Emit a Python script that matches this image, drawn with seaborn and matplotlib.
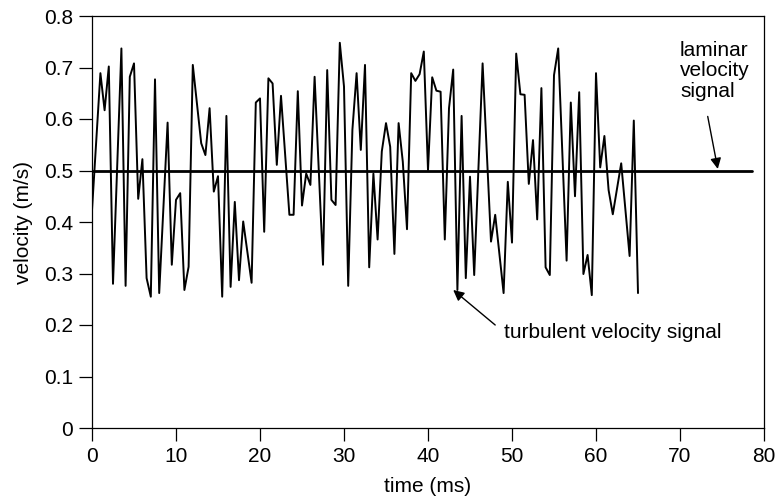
import matplotlib
matplotlib.use("Agg")
import matplotlib.pyplot as plt
import seaborn as sns
import pandas as pd
from matplotlib.ticker import FuncFormatter

time_ms = [0, 1.0, 1.5, 2.0, 2.5, 3.5, 4.0, 4.5, 5.0, 5.5, 6.0, 6.5, 7.0, 7.5, 8.0,
           9.0, 9.5, 10.0, 10.5, 11.0, 11.5, 12.0, 13.0, 13.5, 14.0, 14.5, 15.0, 15.5,
           16.0, 16.5, 17.0, 17.5, 18.0, 19.0, 19.5, 20.0, 20.5, 21.0, 21.5, 22.0, 22.5,
           23.5, 24.0, 24.5, 25.0, 25.5, 26.0, 26.5, 27.5, 28.0, 28.5, 29.0, 29.5, 30.0,
           30.5, 31.0, 31.5, 32.0, 32.5, 33.0, 33.5, 34.0, 34.5, 35.0, 35.5, 36.0, 36.5,
           37.0, 37.5, 38.0, 38.5, 39.0, 39.5, 40.0, 40.5, 41.0, 41.5, 42.0, 42.5, 43.0,
           43.5, 44.0, 44.5, 45.0, 45.5, 46.5, 47.5, 48.0, 49.0, 49.5, 50.0, 50.5, 51.0,
           51.5, 52.0, 52.5, 53.0, 53.5, 54.0, 54.5, 55.0, 55.5, 56.5, 57.0, 57.5, 58.0,
           58.5, 59.0, 59.5, 60.0, 60.5, 61.0, 61.5, 62.0, 63.0, 64.0, 64.5, 65.0]
turbulent_velocity = [0.423, 0.689, 0.617, 0.702, 0.280, 0.737, 0.276, 0.682, 0.708, 0.445,
                      0.522, 0.291, 0.255, 0.677, 0.262, 0.593, 0.317, 0.443, 0.456, 0.268,
                      0.313, 0.705, 0.553, 0.530, 0.621, 0.459, 0.489, 0.255, 0.606, 0.274,
                      0.439, 0.287, 0.401, 0.282, 0.632, 0.640, 0.381, 0.679, 0.669, 0.511,
                      0.645, 0.414, 0.414, 0.654, 0.432, 0.494, 0.472, 0.682, 0.317, 0.695,
                      0.443, 0.433, 0.748, 0.663, 0.276, 0.579, 0.689, 0.540, 0.705, 0.312,
                      0.494, 0.366, 0.537, 0.592, 0.546, 0.338, 0.592, 0.517, 0.386, 0.689,
                      0.674, 0.687, 0.731, 0.501, 0.681, 0.655, 0.653, 0.366, 0.621, 0.696,
                      0.268, 0.606, 0.291, 0.488, 0.297, 0.708, 0.362, 0.414, 0.262, 0.478,
                      0.360, 0.727, 0.648, 0.647, 0.474, 0.559, 0.405, 0.660, 0.312, 0.297,
                      0.685, 0.737, 0.325, 0.632, 0.450, 0.652, 0.299, 0.336, 0.258, 0.689,
                      0.506, 0.567, 0.462, 0.415, 0.514, 0.334, 0.597, 0.262]
laminar_time = [0, 78.6]
laminar_velocity = [0.5, 0.5]
x_ticks = [0, 10, 20, 30, 40, 50, 60, 70, 80]
y_ticks = [0, 0.1, 0.2, 0.3, 0.4, 0.5, 0.6, 0.7, 0.8]

sns.set_theme(style="ticks")
plt.rcParams["font.family"] = ["Liberation Sans", "DejaVu Sans"]
plt.rcParams["text.color"] = "black"
plt.rcParams["axes.labelcolor"] = "black"
plt.rcParams["xtick.color"] = "black"
plt.rcParams["ytick.color"] = "black"

FS = 15

fig = plt.figure(figsize=(7.77, 5.0), dpi=100)
ax = fig.add_axes([92 / 777, 1 - 428 / 500, (764 - 92) / 777, (428 - 16) / 500])

turb = pd.DataFrame({"t": time_ms, "v": turbulent_velocity})
lam = pd.DataFrame({"t": laminar_time, "v": laminar_velocity})
sns.lineplot(data=turb, x="t", y="v", ax=ax, color="black", lw=1.4, estimator=None)
sns.lineplot(data=lam, x="t", y="v", ax=ax, color="black", lw=2.0, estimator=None)

ax.set_xlim(0, 80)
ax.set_ylim(0, 0.8)
ax.set_xticks(x_ticks)
ax.set_yticks(y_ticks)
ax.yaxis.set_major_formatter(FuncFormatter(lambda v, p: "0" if v == 0 else f"{v:.1f}"))
ax.tick_params(direction="out", length=9.5, width=0.9, labelsize=FS, pad=4,
               colors="black", labelcolor="black", top=False, right=False)
for s in ax.spines.values():
    s.set_linewidth(0.9)
    s.set_color("black")
    s.set_visible(True)

ax.set_xlabel("time (ms)", fontsize=FS, labelpad=8, color="black")
ax.set_ylabel("velocity (m/s)", fontsize=FS, labelpad=8, color="black")

ax.text(70.0, 0.752, "laminar\nvelocity\nsignal", ha="left", va="top",
        fontsize=FS, linespacing=1.1, color="black")
ax.annotate("", xy=(74.5, 0.503), xytext=(73.3, 0.605),
            arrowprops=dict(arrowstyle="-|>", color="black", lw=1.0,
                            mutation_scale=16, shrinkA=0, shrinkB=0))
ax.text(49.0, 0.186, "turbulent velocity signal", ha="left", va="center",
        fontsize=FS, color="black")
ax.annotate("", xy=(43.0, 0.268), xytext=(48.0, 0.2),
            arrowprops=dict(arrowstyle="-|>", color="black", lw=1.0,
                            mutation_scale=16, shrinkA=0, shrinkB=0))

fig.savefig("out.png", dpi=100)
